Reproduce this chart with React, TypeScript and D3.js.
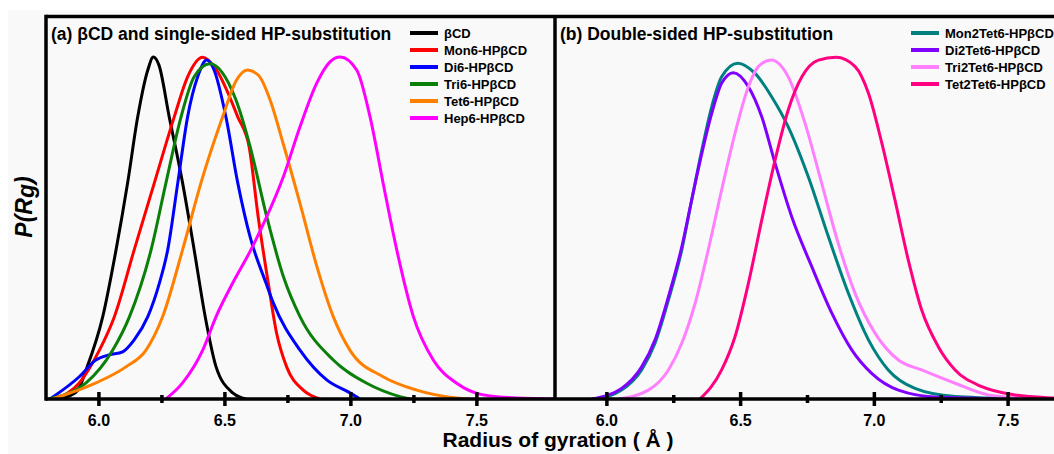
import * as d3 from 'd3';

// Radius of gyration (Å) vs normalised P(Rg)
type Pt = [number, number];

const panelATitle = '(a) \u03b2CD and single-sided HP-substitution';
const panelBTitle = '(b) Double-sided HP-substitution';

const bCD: Pt[] = [[5.846, 0.003], [5.885, 0.01], [5.917, 0.026], [5.949, 0.085], [6.015, 0.24], [6.068, 0.436], [6.114, 0.632], [6.154, 0.825], [6.194, 0.962], [6.216, 1.0], [6.238, 0.977], [6.279, 0.825], [6.332, 0.632], [6.378, 0.436], [6.422, 0.24], [6.465, 0.094], [6.531, 0.018], [6.584, 0]];
const mon6: Pt[] = [[5.83, 0], [5.922, 0.047], [6.002, 0.143], [6.061, 0.24], [6.14, 0.436], [6.22, 0.632], [6.299, 0.825], [6.352, 0.942], [6.412, 0.999], [6.461, 0.968], [6.551, 0.825], [6.596, 0.738], [6.632, 0.533], [6.672, 0.339], [6.705, 0.193], [6.745, 0.094], [6.811, 0.026], [6.877, 0]];
const di6: Pt[] = [[5.806, 0], [5.922, 0.065], [5.988, 0.114], [6.041, 0.129], [6.094, 0.138], [6.14, 0.173], [6.194, 0.241], [6.24, 0.339], [6.273, 0.436], [6.313, 0.632], [6.352, 0.825], [6.392, 0.942], [6.428, 0.991], [6.457, 0.962], [6.504, 0.825], [6.551, 0.632], [6.6, 0.474], [6.663, 0.339], [6.692, 0.281], [6.798, 0.143], [6.904, 0.056], [6.996, 0.018], [7.036, 0]];
const tri6: Pt[] = [[5.798, 0], [5.949, 0.047], [6.055, 0.143], [6.121, 0.24], [6.207, 0.436], [6.266, 0.632], [6.326, 0.825], [6.378, 0.942], [6.441, 0.98], [6.488, 0.956], [6.544, 0.874], [6.6, 0.738], [6.666, 0.533], [6.732, 0.358], [6.798, 0.241], [6.93, 0.114], [7.063, 0.046], [7.195, 0.007], [7.234, 0]];
const tet6: Pt[] = [[5.814, 0], [5.988, 0.047], [6.107, 0.094], [6.187, 0.143], [6.253, 0.241], [6.332, 0.436], [6.405, 0.632], [6.491, 0.825], [6.544, 0.93], [6.59, 0.962], [6.635, 0.945], [6.679, 0.875], [6.732, 0.745], [6.798, 0.572], [6.864, 0.39], [6.93, 0.241], [6.996, 0.143], [7.128, 0.065], [7.261, 0.026], [7.42, 0.003], [7.473, 0]];
const hep6: Pt[] = [[6.266, 0], [6.332, 0.047], [6.412, 0.143], [6.465, 0.241], [6.531, 0.339], [6.603, 0.436], [6.666, 0.533], [6.732, 0.65], [6.798, 0.796], [6.864, 0.923], [6.917, 0.986], [6.957, 1.0], [7.023, 0.962], [7.076, 0.825], [7.128, 0.631], [7.182, 0.436], [7.248, 0.241], [7.327, 0.114], [7.42, 0.046], [7.525, 0.012], [7.658, 0.003], [7.81, 0]];

const mon2tet6: Pt[] = [[5.956, 0], [6.055, 0.026], [6.13, 0.085], [6.18, 0.163], [6.23, 0.289], [6.28, 0.436], [6.317, 0.582], [6.355, 0.728], [6.392, 0.855], [6.429, 0.942], [6.489, 0.982], [6.554, 0.952], [6.616, 0.884], [6.678, 0.796], [6.753, 0.65], [6.828, 0.475], [6.903, 0.309], [6.978, 0.173], [7.052, 0.085], [7.152, 0.031], [7.302, 0.007], [7.426, 0.003], [7.55, 0]];
const di2tet6: Pt[] = [[5.943, 0], [6.055, 0.031], [6.13, 0.094], [6.18, 0.173], [6.23, 0.299], [6.28, 0.445], [6.317, 0.582], [6.355, 0.718], [6.392, 0.835], [6.429, 0.923], [6.473, 0.954], [6.529, 0.913], [6.579, 0.825], [6.629, 0.689], [6.691, 0.533], [6.766, 0.387], [6.841, 0.251], [6.916, 0.143], [6.99, 0.075], [7.09, 0.026], [7.239, 0.005], [7.364, 0.003], [7.45, 0]];
const tri2tet6: Pt[] = [[6.043, 0], [6.155, 0.026], [6.23, 0.085], [6.28, 0.163], [6.33, 0.28], [6.379, 0.436], [6.429, 0.611], [6.479, 0.777], [6.529, 0.913], [6.566, 0.972], [6.614, 0.991], [6.678, 0.942], [6.741, 0.806], [6.803, 0.631], [6.865, 0.455], [6.928, 0.309], [7.003, 0.192], [7.09, 0.114], [7.177, 0.085], [7.302, 0.046], [7.426, 0.012], [7.551, 0.003], [7.65, 0]];
const tet2tet6: Pt[] = [[6.348, 0], [6.429, 0.085], [6.479, 0.182], [6.529, 0.338], [6.579, 0.523], [6.629, 0.699], [6.678, 0.845], [6.729, 0.942], [6.791, 0.991], [6.857, 0.999], [6.928, 0.972], [6.978, 0.894], [7.028, 0.748], [7.077, 0.582], [7.127, 0.406], [7.177, 0.26], [7.239, 0.153], [7.302, 0.085], [7.402, 0.036], [7.526, 0.012], [7.672, 0.003], [7.81, 0]];

const seriesA = [
  { name: '\u03b2CD', color: '#000000', data: bCD },
  { name: 'Mon6-HP\u03b2CD', color: '#ff0000', data: mon6 },
  { name: 'Di6-HP\u03b2CD', color: '#0000ff', data: di6 },
  { name: 'Tri6-HP\u03b2CD', color: '#0a800a', data: tri6 },
  { name: 'Tet6-HP\u03b2CD', color: '#ff8000', data: tet6 },
  { name: 'Hep6-HP\u03b2CD', color: '#ff00ff', data: hep6 },
];
const seriesB = [
  { name: 'Mon2Tet6-HP\u03b2CD', color: '#008080', data: mon2tet6 },
  { name: 'Di2Tet6-HP\u03b2CD', color: '#8000ff', data: di2tet6 },
  { name: 'Tri2Tet6-HP\u03b2CD', color: '#ff80ff', data: tri2tet6 },
  { name: 'Tet2Tet6-HP\u03b2CD', color: '#ff0080', data: tet2tet6 },
];

const majorTicks = [6.0, 6.5, 7.0, 7.5];
const minorTicks = [6.25, 6.75, 7.25];

const FONT = '"Liberation Sans", Arial, sans-serif';
const top = 16.5;
const bottom = 399;

const Panel = ({ series, title, x0, x1, domain, legendX, clipId }: any) => {
  const x = d3.scaleLinear().domain(domain).range([x0, x1]);
  const y = d3.scaleLinear().domain([0, 1]).range([bottom, 57]);
  const line = d3.line<Pt>().x(d => x(d[0])).y(d => y(d[1])).curve(d3.curveMonotoneX);
  return (
    <g>
      <clipPath id={clipId}>
        <rect x={x0} y={top} width={x1 - x0} height={bottom - top} />
      </clipPath>
      <g clipPath={`url(#${clipId})`}>
        {series.map((s: any) => (
          <path key={s.name} d={line(s.data) || ''} fill="none" stroke={s.color} strokeWidth={3} strokeLinejoin="round" />
        ))}
      </g>
      <text x={x0 + 5} y={39.5} fontFamily={FONT} fontWeight="bold" fontSize={17.5}>{title}</text>
      {series.map((s: any, i: number) => (
        <g key={s.name} transform={`translate(${legendX},${33 + i * 17})`}>
          <line x1={0} x2={28} y1={0} y2={0} stroke={s.color} strokeWidth={4} />
          <text x={34} y={4.5} fontFamily={FONT} fontWeight="bold" fontSize={13}>{s.name}</text>
        </g>
      ))}
      {majorTicks.map(t => (
        <g key={t}>
          <line x1={x(t)} x2={x(t)} y1={bottom - 7} y2={bottom + 7} stroke="#000" strokeWidth={3.5} />
          <text x={x(t)} y={426} textAnchor="middle" fontFamily={FONT} fontWeight="bold" fontSize={16}>{t.toFixed(1)}</text>
        </g>
      ))}
      {minorTicks.map(t => (
        <line key={t} x1={x(t)} x2={x(t)} y1={bottom - 4} y2={bottom + 4} stroke="#000" strokeWidth={3.5} />
      ))}
    </g>
  );
};

export default function App() {
  return (
    <svg width={1054} height={454} style={{ position: 'absolute', left: 0, top: 0, background: '#fff' }}>
      <rect x={8} y={10} width={1046} height={444} fill="#f9f9f9" />
      <Panel series={seriesA} title={panelATitle} x0={46} x1={555} domain={[5.79, 7.81]} legendX={410} clipId="clipA" />
      <Panel series={seriesB} title={panelBTitle} x0={555} x1={1091} domain={[5.806, 7.81]} legendX={911} clipId="clipB" />
      {/* frame */}
      <line x1={46} x2={1054} y1={top} y2={top} stroke="#000" strokeWidth={3.5} />
      <line x1={46} x2={46} y1={top - 1.75} y2={bottom + 1.75} stroke="#000" strokeWidth={3.5} />
      <line x1={555} x2={555} y1={top} y2={bottom} stroke="#000" strokeWidth={3.5} />
      <line x1={46} x2={1054} y1={bottom} y2={bottom} stroke="#000" strokeWidth={3.5} />
      <text x={558} y={447} textAnchor="middle" fontFamily={FONT} fontWeight="bold" fontSize={21}>Radius of gyration ( {'\u00c5'} )</text>
      <text transform="translate(32,207) rotate(-90)" textAnchor="middle" fontFamily={FONT} fontWeight="bold" fontStyle="italic" fontSize={23}>
        P(R<tspan dy={2}>g</tspan><tspan dy={-2}>)</tspan>
      </text>
    </svg>
  );
}
